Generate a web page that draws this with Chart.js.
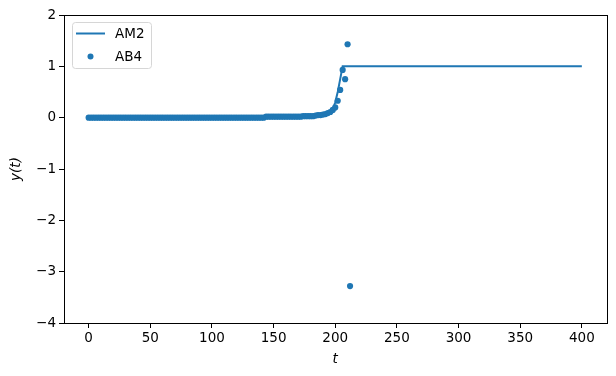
<!DOCTYPE html>
<html>
<head>
<meta charset="utf-8">
<script src="https://cdn.jsdelivr.net/npm/chart.js@4"></script>
<style>
  html, body { margin: 0; padding: 0; background: #fff; }
  #wrap { width: 616px; height: 376px; }
</style>
</head>
<body>
<div id="wrap"><canvas id="chart" width="616" height="376"></canvas></div>
<script>
// AM2 line (breakpoints)
const amT = [0, 142, 144, 172, 174, 184, 188, 192, 196, 198, 200, 202, 204, 206, 400];
const amY = [0, 0, 0.02, 0.02, 0.03, 0.04, 0.05, 0.07, 0.11, 0.16, 0.3, 0.5, 0.75, 1, 1];

// AB4 points, step 2
const abT = [
  0, 2, 4, 6, 8, 10, 12, 14, 16, 18, 20, 22, 24, 26, 28, 30, 32, 34, 36, 38,
  40, 42, 44, 46, 48, 50, 52, 54, 56, 58, 60, 62, 64, 66, 68, 70, 72, 74, 76, 78,
  80, 82, 84, 86, 88, 90, 92, 94, 96, 98, 100, 102, 104, 106, 108, 110, 112, 114, 116, 118,
  120, 122, 124, 126, 128, 130, 132, 134, 136, 138, 140, 142,
  144, 146, 148, 150, 152, 154, 156, 158, 160, 162, 164, 166, 168, 170, 172,
  174, 176, 178, 180, 182, 184, 186, 188, 190, 192, 194, 196, 198,
  200, 202, 204, 206, 208, 210, 212
];
const abY = [
  0, 0, 0, 0, 0, 0, 0, 0, 0, 0, 0, 0, 0, 0, 0, 0, 0, 0, 0, 0,
  0, 0, 0, 0, 0, 0, 0, 0, 0, 0, 0, 0, 0, 0, 0, 0, 0, 0, 0, 0,
  0, 0, 0, 0, 0, 0, 0, 0, 0, 0, 0, 0, 0, 0, 0, 0, 0, 0, 0, 0,
  0, 0, 0, 0, 0, 0, 0, 0, 0, 0, 0, 0,
  0.02, 0.02, 0.02, 0.02, 0.02, 0.02, 0.02, 0.02, 0.02, 0.02, 0.02, 0.02, 0.02, 0.02, 0.02,
  0.03, 0.03, 0.03, 0.03, 0.03, 0.04, 0.05, 0.05, 0.06, 0.07, 0.09, 0.11, 0.15,
  0.2, 0.33, 0.54, 0.93, 0.75, 1.43, -3.28
];

const xTicks = [0, 50, 100, 150, 200, 250, 300, 350, 400];
const yTicks = [-4, -3, -2, -1, 0, 1, 2];

const BLUE = '#1f77b4';
const FONT = "'DejaVu Sans', sans-serif";

// top/right frame + legend inside the axes
const framePlugin = {
    id: 'frame',
    afterDraw(chart) {
        const ctx = chart.ctx;
        const a = chart.chartArea;
        ctx.save();
        ctx.strokeStyle = '#000';
        ctx.lineWidth = 1;
        ctx.strokeRect(Math.round(a.left) + 0.5, Math.round(a.top) + 0.5,
            Math.round(a.right - a.left), Math.round(a.bottom - a.top));

        // legend box
        const bx = 72, by = 22, bw = 79, bh = 46, r = 3;
        ctx.fillStyle = 'rgba(255,255,255,0.8)';
        ctx.strokeStyle = '#d6d6d6';
        ctx.beginPath();
        ctx.roundRect(bx + 0.5, by + 0.5, bw, bh, r);
        ctx.fill();
        ctx.stroke();

        const ds = chart.data.datasets;
        ctx.strokeStyle = BLUE;
        ctx.lineWidth = 2;
        ctx.beginPath();
        ctx.moveTo(76, 33.5);
        ctx.lineTo(105, 33.5);
        ctx.stroke();

        ctx.fillStyle = BLUE;
        ctx.beginPath();
        ctx.arc(90.5, 56.5, 3, 0, Math.PI * 2);
        ctx.fill();

        ctx.fillStyle = '#000';
        ctx.font = '13.5px ' + FONT;
        ctx.textBaseline = 'middle';
        ctx.textAlign = 'left';
        ctx.fillText(ds[0].label, 115, 34);
        ctx.fillText(ds[1].label, 115, 57);
        ctx.restore();
    }
};

const minus = v => String(v).replace('-', '\u2212');

new Chart(document.getElementById('chart'), {
    type: 'scatter',
    data: {
        datasets: [
            {
                type: 'line',
                label: 'AM2',
                data: amT.map((t, i) => ({ x: t, y: amY[i] })),
                borderColor: BLUE,
                borderWidth: 2,
                pointRadius: 0,
                fill: false,
                tension: 0,
                order: 1
            },
            {
                label: 'AB4',
                data: abT.map((t, i) => ({ x: t, y: abY[i] })),
                backgroundColor: BLUE,
                borderWidth: 0,
                pointRadius: 3.1,
                order: 0
            }
        ]
    },
    options: {
        responsive: false,
        animation: false,
        layout: { padding: { left: 0, right: 9.5, top: 15, bottom: 0 } },
        plugins: { legend: { display: false }, tooltip: { enabled: false } },
        scales: {
            x: {
                type: 'linear',
                min: -20,
                max: 420,
                afterBuildTicks: s => { s.ticks = xTicks.map(v => ({ value: v })); },
                afterFit: s => { s.height = 53; },
                grid: { drawOnChartArea: false, drawTicks: true, tickLength: 5, tickColor: '#000' },
                border: { display: true, color: '#000', width: 1 },
                ticks: { color: '#000', font: { family: FONT, size: 13.5 }, padding: 2, maxRotation: 0, callback: minus },
                title: { display: true, text: 't', color: '#000', font: { family: FONT, size: 13.5, style: 'italic' }, padding: { top: 2, bottom: 8 } }
            },
            y: {
                type: 'linear',
                min: -4,
                max: 2,
                afterBuildTicks: s => { s.ticks = yTicks.map(v => ({ value: v })); },
                afterFit: s => { s.width = 64; },
                grid: { drawOnChartArea: false, drawTicks: true, tickLength: 5, tickColor: '#000' },
                border: { display: true, color: '#000', width: 1 },
                ticks: { color: '#000', font: { family: FONT, size: 13.5 }, padding: 3, callback: minus },
                title: { display: true, text: 'y(t)', color: '#000', font: { family: FONT, size: 13.5, style: 'italic' }, padding: { top: 8, bottom: 2 } }
            }
        }
    },
    plugins: [framePlugin]
});
</script>
</body>
</html>
